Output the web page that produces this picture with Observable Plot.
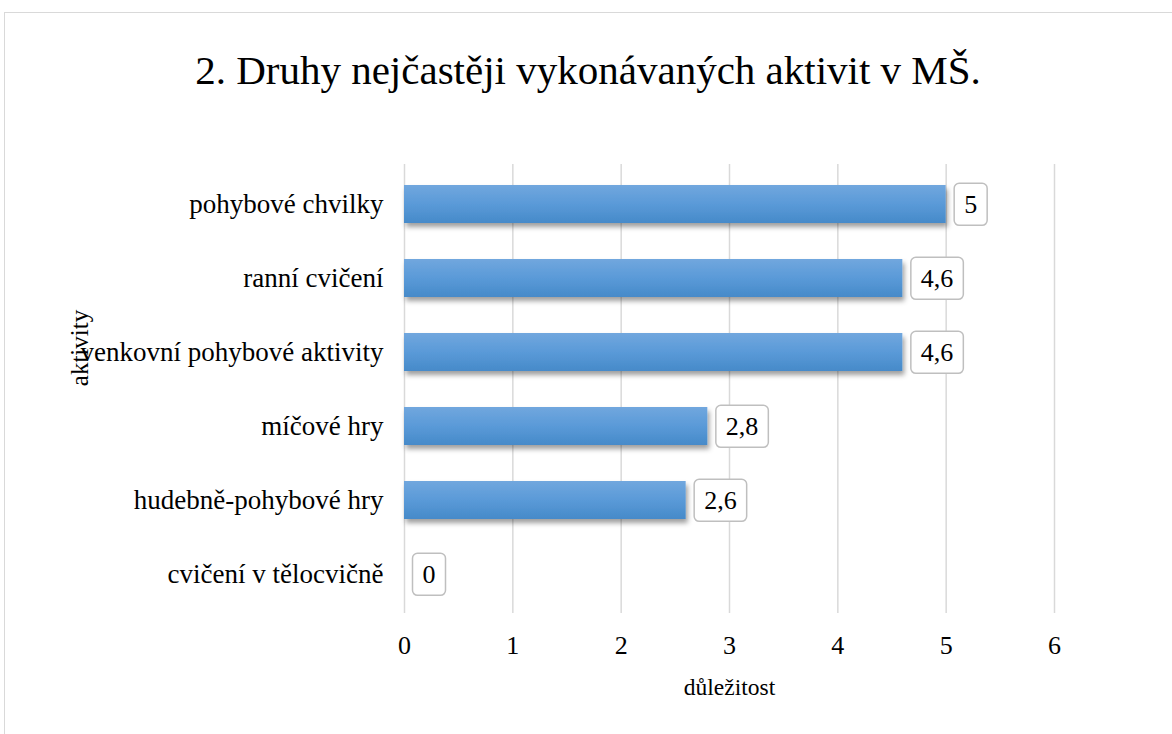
<!DOCTYPE html>
<html>
<head>
<meta charset="utf-8">
<script src="https://cdn.jsdelivr.net/npm/d3@7"></script>
<script src="https://cdn.jsdelivr.net/npm/@observablehq/plot@0.6"></script>
<style>
  html, body { margin: 0; padding: 0; background: #fff; overflow: hidden; width: 1172px; height: 734px; }
  #frame { position: absolute; left: 4px; top: 12px; width: 1200px; height: 760px; border: 1px solid #d9d9d9; background: #fff; }
  #title { height: 114px; line-height: 114px; width: 1166px; text-align: center; font-family: 'Liberation Serif', serif; font-size: 41px; color: #000; white-space: nowrap; }
  #chart { margin-top: 2px; }
</style>
</head>
<body>
<div id="frame">
  <div id="title">2. Druhy nejčastěji vykonávaných aktivit v MŠ.</div>
  <div id="chart"></div>
</div>
<script>
const categories = ["pohybové chvilky", "ranní cvičení", "venkovní pohybové aktivity", "míčové hry", "hudebně-pohybové hry", "cvičení v tělocvičně"];
const values = [5, 4.6, 4.6, 2.8, 2.6, 0];
const valueLabels = ["5", "4,6", "4,6", "2,8", "2,6", "0"];
const xTicks = [0, 1, 2, 3, 4, 5, 6];
const xAxisTitle = "důležitost";
const yAxisTitle = "aktivity";

const data = categories.map((c, i) => ({category: c, value: values[i], label: valueLabels[i]}));

const defs = () => {
  const g = d3.create("svg:g");
  g.html(`<defs>
    <linearGradient id="barGrad" x1="0" y1="0" x2="0" y2="1">
      <stop offset="0" stop-color="#71a7de"/>
      <stop offset="0.5" stop-color="#5a9ad8"/>
      <stop offset="1" stop-color="#468ac9"/>
    </linearGradient>
    <filter id="barShadow" x="-5%" y="-30%" width="112%" height="180%">
      <feDropShadow dx="2" dy="4" stdDeviation="2.5" flood-color="#000" flood-opacity="0.38"/>
    </filter>
  </defs>`);
  return g.node();
};

const chart = Plot.plot({
  width: 1166,
  height: 605,
  marginLeft: 399,
  marginRight: 117,
  marginTop: 35,
  marginBottom: 121,
  style: {fontFamily: "'Liberation Serif', serif", fontSize: "26px", color: "#000", background: "transparent", overflow: "visible"},
  x: {domain: [0, 6], ticks: xTicks, label: null},
  y: {domain: categories, paddingInner: 0.49, paddingOuter: 0.25, label: null},
  marks: [
    defs,
    Plot.gridX(xTicks, {stroke: "#d9d9d9", strokeOpacity: 1, strokeWidth: 1.5}),
    Plot.barX(data, {x: "value", y: "category", fill: "url(#barGrad)"}),
    Plot.text(data, {x: "value", y: "category", text: "label", textAnchor: "start", dx: 18, fontSize: 26, fill: "#000"}),
    Plot.axisX({ticks: xTicks, tickSize: 0, tickPadding: 22, fontSize: 26, label: null, tickFormat: d => String(d)}),
    Plot.axisY({tickSize: 0, tickPadding: 21, fontSize: 27, label: null}),
    Plot.text([xAxisTitle], {frameAnchor: "bottom", dy: 74, lineAnchor: "middle", fontSize: 23.5, fill: "#000"}),
    Plot.text([yAxisTitle], {frameAnchor: "left", dx: -325, dy: -41, rotate: -90, lineAnchor: "middle", textAnchor: "middle", fontSize: 25, fill: "#000"})
  ]
});

document.getElementById("chart").appendChild(chart);

d3.select(chart).selectAll('g[aria-label="bar"] rect').attr("filter", "url(#barShadow)");

const labelGroup = chart.querySelector('g[aria-label="text"]');
d3.select(labelGroup).selectAll("text").each(function() {
  const t = this;
  const bb = t.getBBox();
  const cy = bb.y + bb.height / 2;
  const r = document.createElementNS("http://www.w3.org/2000/svg", "rect");
  r.setAttribute("x", bb.x - 10);
  r.setAttribute("y", cy - 21);
  r.setAttribute("width", bb.width + 20);
  r.setAttribute("height", 42);
  r.setAttribute("rx", 5);
  r.setAttribute("fill", "#fff");
  r.setAttribute("stroke", "#bfbfbf");
  r.setAttribute("stroke-width", 1.5);
  if (t.getAttribute("transform")) r.setAttribute("transform", t.getAttribute("transform"));
  t.parentNode.insertBefore(r, t);
});
</script>
</body>
</html>
